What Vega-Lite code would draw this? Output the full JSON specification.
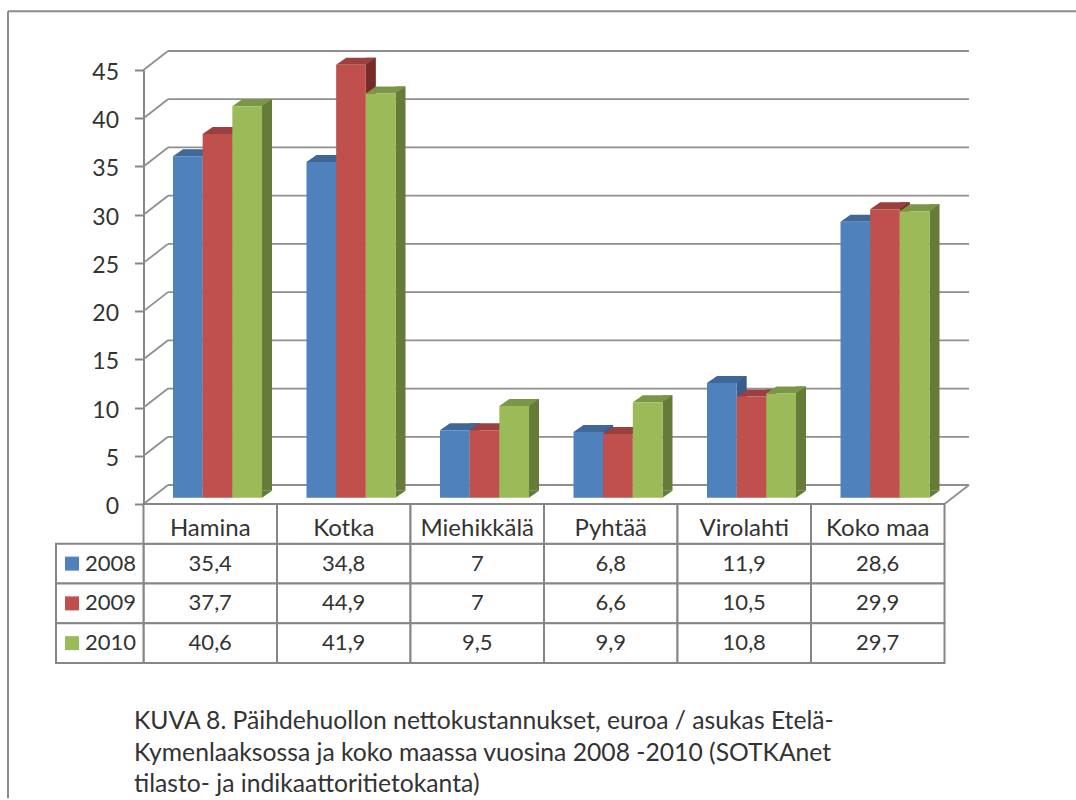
{
"$schema":"https://vega.github.io/schema/vega-lite/v6.json",
"autosize":{"type":"none"},
"padding":{"left":143.5,"top":70,"right":131.5,"bottom":296},
"width":801,"height":434,
"background":"white",
"config":{"view":{"stroke":null},"font":"Lato"},
"title":{"text":["KUVA 8. Päihdehuollon nettokustannukset, euroa / asukas Etelä-","Kymenlaaksossa ja koko maassa vuosina 2008 -2010 (SOTKAnet","tilasto- ja indikaattoritietokanta)"],"orient":"bottom","anchor":"start","frame":"group","dx":-9.5,"offset":-90,"baseline":"top","font":"Lato","fontSize":24.7,"fontWeight":"normal","color":"#333333","lineHeight":31.5},
"datasets":{
"bars":[
{"cat":"Hamina","series":"2008","value":35.4,"label":"35,4"},{"cat":"Kotka","series":"2008","value":34.8,"label":"34,8"},{"cat":"Miehikkälä","series":"2008","value":7,"label":"7"},{"cat":"Pyhtää","series":"2008","value":6.8,"label":"6,8"},{"cat":"Virolahti","series":"2008","value":11.9,"label":"11,9"},{"cat":"Koko maa","series":"2008","value":28.6,"label":"28,6"},
{"cat":"Hamina","series":"2009","value":37.7,"label":"37,7"},{"cat":"Kotka","series":"2009","value":44.9,"label":"44,9"},{"cat":"Miehikkälä","series":"2009","value":7,"label":"7"},{"cat":"Pyhtää","series":"2009","value":6.6,"label":"6,6"},{"cat":"Virolahti","series":"2009","value":10.5,"label":"10,5"},{"cat":"Koko maa","series":"2009","value":29.9,"label":"29,9"},
{"cat":"Hamina","series":"2010","value":40.6,"label":"40,6"},{"cat":"Kotka","series":"2010","value":41.9,"label":"41,9"},{"cat":"Miehikkälä","series":"2010","value":9.5,"label":"9,5"},{"cat":"Pyhtää","series":"2010","value":9.9,"label":"9,9"},{"cat":"Virolahti","series":"2010","value":10.8,"label":"10,8"},{"cat":"Koko maa","series":"2010","value":29.7,"label":"29,7"}
],
"ticks":[{"v":0},{"v":5},{"v":10},{"v":15},{"v":20},{"v":25},{"v":30},{"v":35},{"v":40},{"v":45}],
"cats":[{"cat":"Hamina"},{"cat":"Kotka"},{"cat":"Miehikkälä"},{"cat":"Pyhtää"},{"cat":"Virolahti"},{"cat":"Koko maa"}],
"series":[{"series":"2008"},{"series":"2009"},{"series":"2010"}]
},
"data":{"name":"bars"},
"encoding":{
"x":{"field":"cat","type":"nominal","sort":null,"axis":null,"scale":{"domain":["Hamina","Kotka","Miehikkälä","Pyhtää","Virolahti","Koko maa"],"paddingInner":0,"paddingOuter":0}}
},
"resolve":{"scale":{"y":"independent"}},
"layer":[
{
"resolve":{"scale":{"color":"independent","xOffset":"independent"}},
"encoding":{"y":{"field":"value","type":"quantitative","scale":{"domain":[0,45],"nice":false},"axis":{"values":[0,5,10,15,20,25,30,35,40,45],"grid":false,"title":null,"domainColor":"#868686","domainWidth":2,"tickColor":"#868686","tickWidth":2,"tickSize":9,"labelFont":"Lato","labelFontSize":23,"labelColor":"#333333","labelPadding":16,"labelOffset":2.5}}},
"layer":[
{"data":{"name":"ticks"},"mark":{"type":"rule","color":"#8f8f8f","strokeWidth":1.8,"xOffset":24.5,"x2Offset":24.5,"yOffset":-19},
 "encoding":{"x":{"value":0},"x2":{"value":801},"y":{"field":"v","type":"quantitative"}}},
{"data":{"name":"ticks"},"mark":{"type":"point","shape":"M0,0L0.49,-0.38","size":10000,"stroke":"#8f8f8f","strokeWidth":1.8,"filled":false,"opacity":1},
 "encoding":{"x":{"datum":"Hamina","bandPosition":0},"y":{"field":"v","type":"quantitative"}}},
{"data":{"values":[{"v":0}]},"mark":{"type":"point","shape":"M0,0L0.49,-0.38","size":10000,"stroke":"#8f8f8f","strokeWidth":1.8,"filled":false,"opacity":1},
 "encoding":{"x":{"datum":"Koko maa","bandPosition":1},"y":{"field":"v","type":"quantitative"}}},
{"mark":{"type":"bar","width":10,"yOffset":-13.3,"y2Offset":-13.3},
 "encoding":{"xOffset":{"field":"series","type":"nominal","scale":{"type":"band","domain":["2008","2009","2010"],"range":[49.35,138.35]}},"y2":{"datum":0},"color":{"field":"series","type":"nominal","legend":null,"scale":{"domain":["2008","2009","2010"],"range":["#385D8A","#772C2A","#667B38"]}}}},
{"mark":{"type":"point","shape":"M0.297,0L0.297,-0.14L0.497,-0.14Z","size":10000,"filled":true,"opacity":1,"yOffset":-6.3},
 "encoding":{"xOffset":{"field":"series","type":"nominal","scale":{"type":"band","domain":["2008","2009","2010"],"range":[29.5,118.5]}},"y":{"datum":0},"color":{"field":"series","type":"nominal","legend":null,"scale":{"domain":["2008","2009","2010"],"range":["#385D8A","#772C2A","#667B38"]}}}},
{"mark":{"type":"point","shape":"M-0.297,0L0.297,0L0.497,-0.14L-0.097,-0.14Z","size":10000,"filled":true,"opacity":1,"yOffset":-6.3},
 "encoding":{"xOffset":{"field":"series","type":"nominal","scale":{"type":"band","domain":["2008","2009","2010"],"range":[29.5,118.5]}},"color":{"field":"series","type":"nominal","legend":null,"scale":{"domain":["2008","2009","2010"],"range":["#3F6797","#9A403E","#7C9647"]}}}},
{"mark":{"type":"bar","yOffset":-6.3,"y2Offset":-6.3},
 "encoding":{"xOffset":{"field":"series","type":"nominal","scale":{"type":"band","domain":["2008","2009","2010"],"range":[29.5,118.5]}},"y2":{"datum":0},"color":{"field":"series","type":"nominal","legend":null,"scale":{"domain":["2008","2009","2010"],"range":["#4F81BD","#C0504D","#9BBB59"]}}}},
{"data":{"values":[{"v":51.1}]},"mark":{"type":"rule","color":"#8c8c8c","strokeWidth":2,"xOffset":-135.5,"x2Offset":131.5},
 "encoding":{"x":{"value":0},"x2":{"value":801},"y":{"field":"v","type":"quantitative"}}},
{"data":{"values":[{"v":51.1,"v2":-30.5}]},"mark":{"type":"rule","color":"#8c8c8c","strokeWidth":2,"xOffset":-135.5},
 "encoding":{"x":{"datum":"Hamina","bandPosition":0},"y":{"field":"v","type":"quantitative"},"y2":{"field":"v2"}}}
]
},
{
"encoding":{"y":{"field":"series","type":"nominal","axis":null,"scale":{"domain":["cat","2008","2009","2010"],"range":[434,593],"paddingInner":0,"paddingOuter":0}}},
"layer":[
{"mark":{"type":"bar","fill":"white","stroke":"#868686","strokeWidth":2}},
{"data":{"name":"cats"},"mark":{"type":"bar","fill":"white","stroke":"#868686","strokeWidth":2},"encoding":{"y":{"datum":"cat"}}},
{"data":{"name":"series"},"mark":{"type":"bar","width":87.5,"xOffset":-110.5,"fill":"white","stroke":"#868686","strokeWidth":2},"encoding":{"x":{"datum":"Hamina"}}},
{"data":{"name":"series"},"mark":{"type":"point","shape":"square","size":196,"filled":true,"opacity":1,"xOffset":-71.5},
 "encoding":{"x":{"datum":"Hamina","bandPosition":0},"color":{"field":"series","type":"nominal","legend":null,"scale":{"domain":["2008","2009","2010"],"range":["#4F81BD","#C0504D","#9BBB59"]}}}},
{"data":{"name":"series"},"mark":{"type":"text","align":"left","font":"Lato","fontSize":22,"color":"#333333","xOffset":-58.5},
 "encoding":{"x":{"datum":"Hamina","bandPosition":0},"text":{"field":"series"}}},
{"data":{"name":"cats"},"mark":{"type":"text","font":"Lato","fontSize":24,"color":"#333333","dy":5},"encoding":{"y":{"datum":"cat"},"text":{"field":"cat"}}},
{"mark":{"type":"text","font":"Lato","fontSize":22,"color":"#333333"},"encoding":{"text":{"field":"label"}}}
]
}
]
}
